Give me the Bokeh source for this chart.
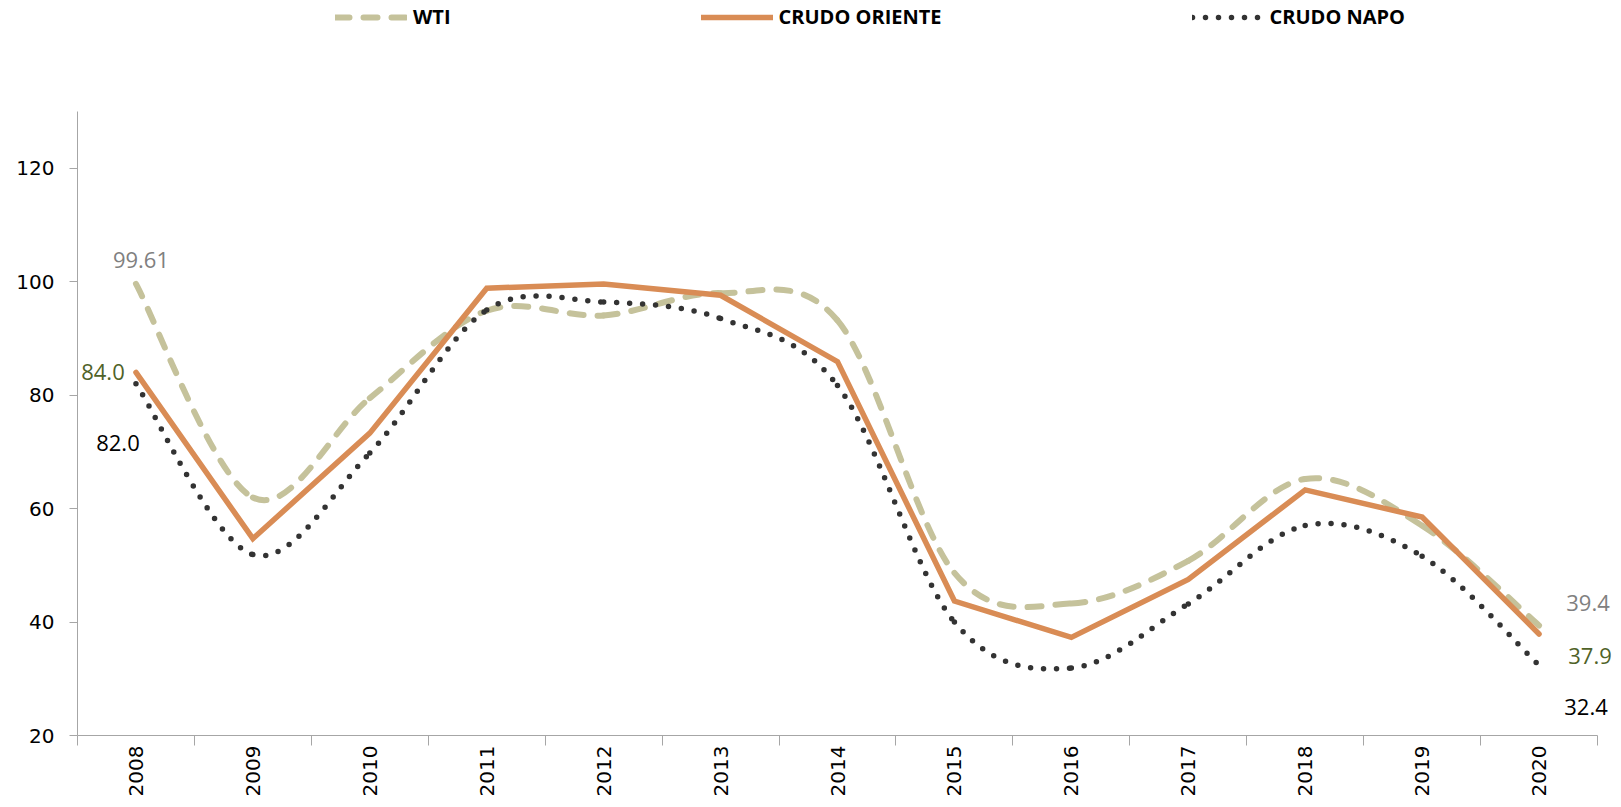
import math
from bokeh.plotting import figure
from bokeh.models import (Range1d, FixedTicker, Label, Legend, LegendItem,
                          ColumnDataSource)
from bokeh.embed import file_html
from bokeh.resources import INLINE

# ---------------- data ----------------
years = ["2008", "2009", "2010", "2011", "2012", "2013", "2014",
         "2015", "2016", "2017", "2018", "2019", "2020"]
wti = [99.61, 61.95, 79.48, 94.88, 94.05, 97.98, 93.17,
       48.66, 43.29, 50.80, 65.23, 56.99, 39.4]
oriente = [84.0, 54.7, 73.3, 98.85, 99.6, 97.6, 85.9,
           43.7, 37.3, 47.5, 63.3, 58.5, 37.9]
napo = [82.0, 51.9, 69.8, 95.0, 96.4, 93.5, 81.7,
        40.0, 31.9, 43.2, 57.0, 51.6, 32.4]
y_ticks = [20, 40, 60, 80, 100, 120]
y_min, y_max = 20, 130

# ---------------- layout ----------------
W, H = 1613, 799
B_LEFT, B_RIGHT, B_TOP, B_BOTTOM = 77, 2, 0, 64
FRAME_H = H - B_TOP - B_BOTTOM
FRAME_W = W - B_LEFT - B_RIGHT
AXIS_W = 1520        # pixel length of the category axis
AXIS_TOP_PX = 111    # pixel row (from top) where the value axis ends

n = len(years)
xs = [i + 0.5 for i in range(n)]
x_end = n * FRAME_W / AXIS_W
y_end = y_max + (AXIS_TOP_PX - B_TOP) * (y_max - y_min) / (FRAME_H - (AXIS_TOP_PX - B_TOP))

p = figure(width=W, height=H, output_backend="svg", toolbar_location=None,
           x_range=Range1d(0, x_end), y_range=Range1d(y_min, y_end),
           min_border_left=B_LEFT, min_border_right=B_RIGHT,
           min_border_top=B_TOP, min_border_bottom=B_BOTTOM)
p.outline_line_color = None
p.xgrid.grid_line_color = None
p.ygrid.grid_line_color = None
p.background_fill_color = "white"
p.border_fill_color = "white"

AX_COL = "#a6a6a6"

# x axis: labels at category centres, ticks on category boundaries
p.xaxis.bounds = (0, n)
p.xaxis.ticker = FixedTicker(ticks=xs, minor_ticks=list(range(n + 1)))
p.xaxis.major_label_overrides = {x: y for x, y in zip(xs, years)}
p.xaxis.major_label_orientation = math.pi / 2
p.xaxis.major_tick_line_color = None
p.xaxis.major_tick_out = 0
p.xaxis.major_tick_in = 0
p.xaxis.minor_tick_line_color = AX_COL
p.xaxis.minor_tick_out = 10
p.xaxis.minor_tick_in = 0
p.xaxis.axis_line_color = AX_COL
p.xaxis.major_label_standoff = 0
p.xaxis.major_label_text_font = "DejaVu Sans"
p.xaxis.major_label_text_font_size = "20px"
p.xaxis.major_label_text_color = "#000000"

p.yaxis.bounds = (y_min, y_max)
p.yaxis.ticker = FixedTicker(ticks=y_ticks, minor_ticks=[])
p.yaxis.major_tick_out = 8
p.yaxis.major_tick_in = 0
p.yaxis.major_tick_line_color = AX_COL
p.yaxis.axis_line_color = AX_COL
p.yaxis.minor_tick_line_color = None
p.yaxis.major_label_standoff = 15
p.yaxis.major_label_text_font = "DejaVu Sans"
p.yaxis.major_label_text_font_size = "20px"
p.yaxis.major_label_text_color = "#000000"


def smooth_source(ys):
    """Cubic Bezier segments (Catmull-Rom style) through the data points."""
    d = dict(x0=[], y0=[], x1=[], y1=[], cx0=[], cy0=[], cx1=[], cy1=[])
    m = len(ys)
    for i in range(m - 1):
        a = i - 1 if i > 0 else i
        b = i + 2 if i + 2 < m else i + 1
        d["x0"].append(xs[i]); d["y0"].append(ys[i])
        d["x1"].append(xs[i + 1]); d["y1"].append(ys[i + 1])
        d["cx0"].append(xs[i] + (xs[i + 1] - xs[a]) / 6.0)
        d["cy0"].append(ys[i] + (ys[i + 1] - ys[a]) / 6.0)
        d["cx1"].append(xs[i + 1] - (xs[b] - xs[i]) / 6.0)
        d["cy1"].append(ys[i + 1] - (ys[b] - ys[i]) / 6.0)
    return ColumnDataSource(d)


C_WTI = "#c5c29b"
C_ORI = "#d98c55"
C_NAPO = "#333333"

r_wti = p.bezier(x0="x0", y0="y0", x1="x1", y1="y1", cx0="cx0", cy0="cy0",
                 cx1="cx1", cy1="cy1", source=smooth_source(wti),
                 line_color=C_WTI, line_width=6, line_dash="14 14",
                 line_cap="round")
r_ori = p.line(xs, oriente, line_color=C_ORI, line_width=5.5,
               line_join="miter", line_cap="round")
r_napo = p.bezier(x0="x0", y0="y0", x1="x1", y1="y1", cx0="cx0", cy0="cy0",
                  cx1="cx1", cy1="cy1", source=smooth_source(napo),
                  line_color=C_NAPO, line_width=5.5, line_dash="0 13",
                  line_cap="round")

legend = Legend(items=[LegendItem(label="WTI", renderers=[r_wti]),
                       LegendItem(label="CRUDO ORIENTE", renderers=[r_ori]),
                       LegendItem(label="CRUDO NAPO", renderers=[r_napo])],
                orientation="horizontal",
                location=(258, FRAME_H - 30),
                glyph_width=72, glyph_height=20, label_standoff=6,
                spacing=250, padding=0, margin=0,
                border_line_color=None, background_fill_alpha=0,
                label_text_font="Open Sans", label_text_font_style="bold",
                label_text_font_size="20px", label_text_color="#000000")
p.add_layout(legend, "center")

LBL_FONT = "Open Sans"
LBL_SIZE = "22px"
labels = [
    (xs[0], wti[0], f"{wti[0]:.2f}", 5, 24, "#808080"),
    (xs[0], oriente[0], f"{oriente[0]:.1f}", -33, 0, "#4f6228"),
    (xs[0], napo[0], f"{napo[0]:.1f}", -18, -59, "#000000"),
    (xs[-1], wti[-1], f"{wti[-1]:.1f}", 49, 22, "#808080"),
    (xs[-1], oriente[-1], f"{oriente[-1]:.1f}", 51, -22, "#4f6228"),
    (xs[-1], napo[-1], f"{napo[-1]:.1f}", 47, -42, "#000000"),
]
for x, y, t, dx, dy, c in labels:
    p.add_layout(Label(x=x, y=y, text=t, x_offset=dx, y_offset=dy,
                       text_align="center", text_baseline="middle",
                       text_font=LBL_FONT, text_font_size=LBL_SIZE,
                       text_color=c))

open("out.html", "w").write(file_html(p, INLINE))
